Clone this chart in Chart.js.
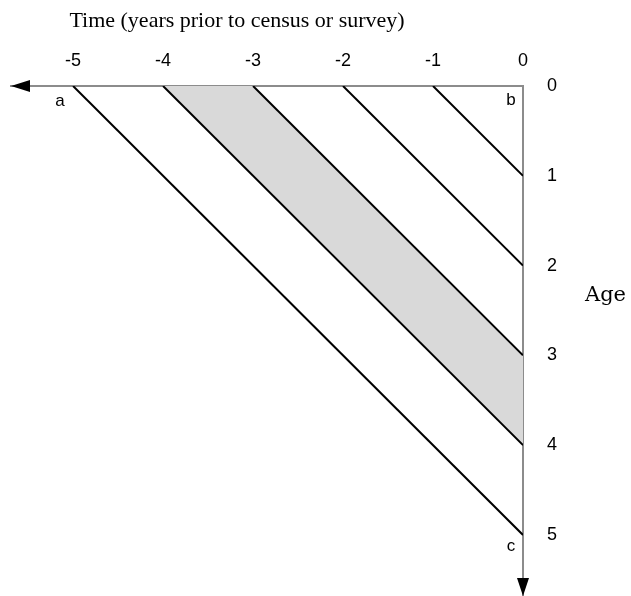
<!DOCTYPE html>
<html>
<head>
<meta charset="utf-8">
<script src="https://cdn.jsdelivr.net/npm/chart.js@4/dist/chart.umd.min.js"></script>
<style>
  html, body { margin: 0; padding: 0; background: #fff; }
  #wrap { width: 631px; height: 596px; position: relative; }
</style>
</head>
<body>
<div id="wrap"><canvas id="chart"></canvas></div>
<script>
// tick labels
const timeTicks = [-5, -4, -3, -2, -1, 0];
const ageTicks = [0, 1, 2, 3, 4, 5];
// each diagonal starts at (time, age 0) and ends at (time 0, age -time)
const cohortStarts = [-5, -4, -3, -2, -1];
// the shaded cohort lies between these two diagonals
const shadedFrom = -4;
const shadedTo = -3;

const lineSets = cohortStarts.map((t) => ({
  data: [{ x: t, y: 0 }, { x: 0, y: -t }],
  showLine: true,
  borderColor: "#000",
  borderWidth: 2,
  pointRadius: 0,
  fill: false,
  order: 0,
}));

const band = {
  data: [
    { x: shadedFrom, y: 0 },
    { x: shadedTo, y: 0 },
    { x: 0, y: -shadedTo },
    { x: 0, y: -shadedFrom },
    { x: shadedFrom, y: 0 },
  ],
  showLine: true,
  borderWidth: 0,
  borderColor: "rgba(0,0,0,0)",
  backgroundColor: "#d9d9d9",
  pointRadius: 0,
  fill: "shape",
  order: 10,
};

const extras = {
  id: "extras",
  afterDraw(chart) {
    const ctx = chart.ctx;
    const xs = chart.scales.x, ys = chart.scales.y;
    const area = chart.chartArea;
    const axisY = area.top, axisX = area.right;
    ctx.save();
    // arrow heads
    ctx.fillStyle = "#000";
    ctx.beginPath();
    ctx.moveTo(area.left, axisY);
    ctx.lineTo(area.left + 19, axisY - 6);
    ctx.lineTo(area.left + 19, axisY + 6);
    ctx.closePath();
    ctx.fill();
    ctx.beginPath();
    ctx.moveTo(axisX, area.bottom);
    ctx.lineTo(axisX - 6, area.bottom - 18);
    ctx.lineTo(axisX + 6, area.bottom - 18);
    ctx.closePath();
    ctx.fill();

    // corner letters
    ctx.font = "17px 'Liberation Sans', Arial, sans-serif";
    ctx.textAlign = "center";
    ctx.textBaseline = "middle";
    ctx.fillText("a", xs.getPixelForValue(-5) - 13, ys.getPixelForValue(0) + 15);
    ctx.fillText("b", xs.getPixelForValue(0) - 12, ys.getPixelForValue(0) + 14);
    ctx.fillText("c", xs.getPixelForValue(0) - 12, ys.getPixelForValue(5) + 11);

    // axis titles
    ctx.font = "22px 'Liberation Serif', 'Times New Roman', serif";
    ctx.fillText("Time (years prior to census or survey)", 237, 21);
    ctx.textAlign = "left";
    ctx.font = "21px 'DejaVu Serif', serif";
    ctx.fillText("Age", 585, ys.getPixelForValue(2.33));
    ctx.restore();
  },
};

const tickFont = { size: 18, family: "'Liberation Sans', Arial, sans-serif" };

// drop the extra padding Chart.js adds around tick labels
const noPad = (scale) => {
  scale.paddingTop = 0;
  scale.paddingBottom = 0;
  scale.paddingLeft = 0;
  scale.paddingRight = 0;
};

new Chart(document.getElementById("chart"), {
  type: "scatter",
  data: { datasets: [band, ...lineSets] },
  options: {
    responsive: true,
    maintainAspectRatio: false,
    animation: false,
    events: [],
    layout: { padding: { left: 11, right: 0, top: 0, bottom: 0 } },
    plugins: {
      legend: { display: false },
      tooltip: { enabled: false },
    },
    scales: {
      x: {
        type: "linear",
        position: "top",
        min: -5.69,
        max: 0,
        afterBuildTicks: (scale) => {
          scale.ticks = timeTicks.map((v) => ({ value: v }));
        },
        afterFit: (scale) => {
          scale.height = 86;
          noPad(scale);
        },
        grid: { display: false, drawTicks: false },
        border: { display: true, color: "#8c8c8c", width: 2 },
        ticks: {
          color: "#000",
          font: tickFont,
          padding: 14,
          maxRotation: 0,
          autoSkip: false,
        },
      },
      y: {
        type: "linear",
        position: "right",
        reverse: true,
        min: 0,
        max: 5.68,
        afterBuildTicks: (scale) => {
          scale.ticks = ageTicks.map((v) => ({ value: v }));
        },
        afterFit: (scale) => {
          scale.width = 108;
          noPad(scale);
        },
        grid: { display: false, drawTicks: false },
        border: { display: true, color: "#8c8c8c", width: 2 },
        ticks: {
          color: "#000",
          font: tickFont,
          padding: 24,
          autoSkip: false,
        },
      },
    },
  },
  plugins: [extras],
});
</script>
</body>
</html>
